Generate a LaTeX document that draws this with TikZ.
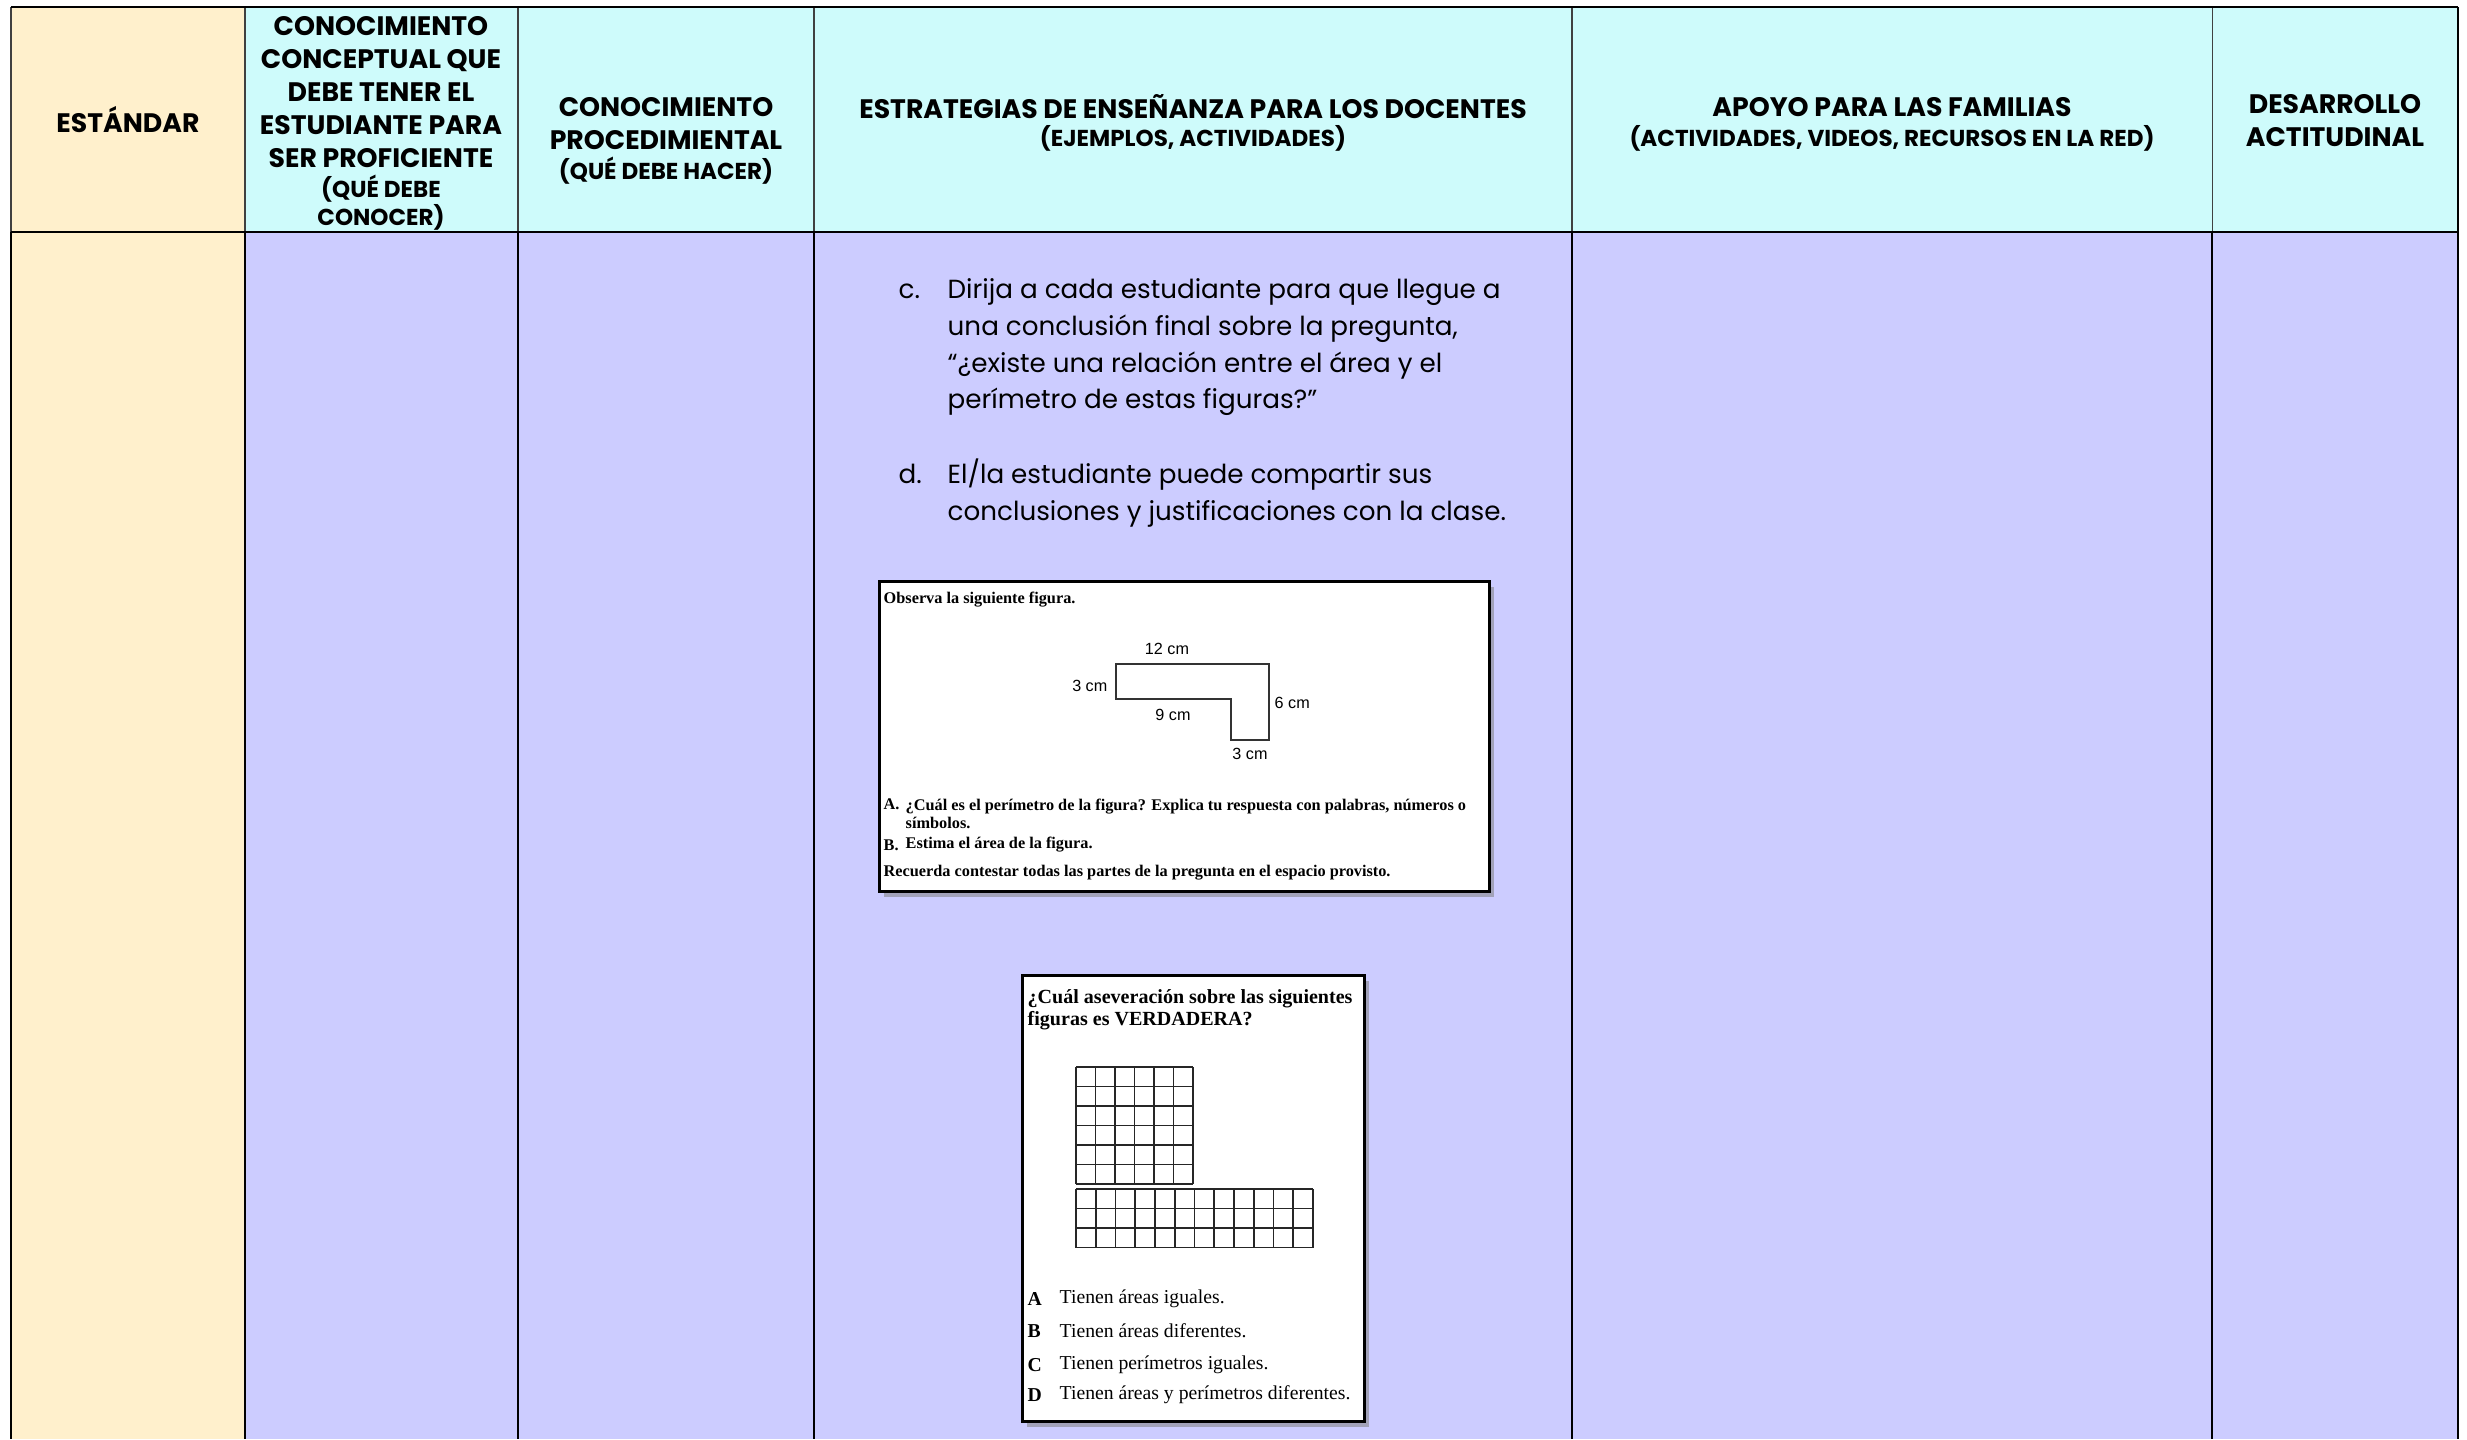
\documentclass[tikz,border=0pt]{standalone}
\usepackage{fontspec}
\setmainfont{Poppins}
\newfontfamily\imgserif{Liberation Serif}
\newfontfamily\imgsans{Liberation Sans}
\usetikzlibrary{positioning,shadows}

\definecolor{stdyellow}{HTML}{FFF0CC}
\definecolor{headcyan}{HTML}{CEFBFB}
\definecolor{bodylilac}{HTML}{CCCCFF}
\definecolor{rulegray}{HTML}{404040}

\newcommand{\subfont}{\fontsize{6.55}{8}\selectfont\bfseries}

\begin{document}
\begin{tikzpicture}[
    x=0.01cm, y=-0.01cm,
    % Styles
    headtext/.style={
        align=center,
        inner sep=0pt,
        font=\fontsize{7.6}{9.4}\selectfont\bfseries
    },
    subhead/.style={
        align=center,
        inner sep=0pt,
        font=\subfont
    },
    bodytext/.style={
        anchor=north west,
        align=left,
        inner sep=0pt,
        font=\fontsize{7.45}{10.45}\selectfont
    },
    figbox/.style={
        rectangle,
        draw=black,
        line width=0.85pt,
        fill=white,
        anchor=north west,
        inner sep=0pt,
        drop shadow={shadow xshift=0.04cm, shadow yshift=-0.05cm, fill=black!50, opacity=0.55}
    },
    figtext/.style={
        anchor=west,
        inner sep=0pt,
        align=left,
        font=\imgserif\fontsize{4.63}{5.1}\selectfont\bfseries
    },
    optiontext/.style={
        anchor=west,
        inner sep=0pt,
        font=\imgserif\fontsize{5.6}{6.4}\selectfont
    },
    optionletter/.style={
        optiontext,
        font=\imgserif\fontsize{5.6}{6.4}\selectfont\bfseries
    },
    measure/.style={
        inner sep=0pt,
        font=\imgsans\fontsize{4.6}{5}\selectfont
    },
    % Line Styles
    thinrule/.style={draw=rulegray, line width=0.3pt},
    thickrule/.style={draw=black, line width=0.6pt},
    shapeline/.style={draw=black!80, line width=0.35pt},
    gridline/.style={draw=black!85, line width=0.5pt}
]

\useasboundingbox[fill=white] (0,0) rectangle (2467,1439);

% --- Cells ---
\fill[stdyellow] (11,7) rectangle (245,1439);
\fill[headcyan] (245,7) rectangle (2458,232);
\fill[bodylilac] (245,232) rectangle (2458,1439);

% --- Rules ---
\foreach \cx in {11,245,518,814,1572,2212}
    \draw[thinrule] (\cx,7) -- (\cx,232);
\foreach \cx in {11,245,518,814,1572,2212}
    \draw[thickrule] (\cx,232) -- (\cx,1439);
\draw[thickrule] (2458,7) -- (2458,1439);
\draw[thickrule] (11,7) -- (2458,7);
\draw[thickrule] (11,232) -- (2458,232);

% --- Header ---
\node[headtext] (hStd) at (128,120) {ESTÁNDAR};
\node[headtext] (hConcept) at (381,92) {CONOCIMIENTO\\CONCEPTUAL QUE\\DEBE TENER EL\\ESTUDIANTE PARA\\SER PROFICIENTE};
\node[subhead] (hConceptSub) at (381,203) {(QUÉ DEBE\\CONOCER)};
\node[headtext] (hProc) at (666,124) {CONOCIMIENTO\\PROCEDIMIENTAL};
\node[subhead] (hProcSub) at (666,171) {(QUÉ DEBE HACER)};
\node[headtext] (hStrat) at (1193,107) {ESTRATEGIAS DE ENSEÑANZA PARA LOS DOCENTES};
\node[subhead] (hStratSub) at (1193,138) {(EJEMPLOS, ACTIVIDADES)};
\node[headtext] (hFam) at (1892,107) {APOYO PARA LAS FAMILIAS};
\node[subhead] (hFamSub) at (1892,138) {(ACTIVIDADES, VIDEOS, RECURSOS EN LA RED)};
\node[headtext] (hAct) at (2335,121) {DESARROLLO\\ACTITUDINAL};

% --- Strategies (c, d) ---
\node[bodytext] (itemC) at (947,278) {Dirija a cada estudiante para que llegue a\\una conclusión final sobre la pregunta,\\“¿existe una relación entre el área y el\\perímetro de estas figuras?”};
\node[bodytext] (labelC) at (898,278) {\vphantom{Dl}c.};
\node[bodytext] (itemD) at (947,458) {El/la estudiante puede compartir sus\\conclusiones y justificaciones con la clase.};
\node[bodytext] (labelD) at (898,458) {\vphantom{El/}d.};

% --- Perimeter task ---
\node[figbox, minimum width=6.1cm, minimum height=3.1cm] (perimFig) at (878,580) {};
\node[figtext] (obsText) at (883,600) {Observa la siguiente figura.};
\draw[shapeline] (1116,664) -- (1269,664) -- (1269,740) -- (1231,740) -- (1231,699) -- (1116,699) -- cycle;
\node[measure] (mTop) at (1167,649) {12 cm};
\node[measure, anchor=east] (mLeft) at (1108,686) {3 cm};
\node[measure, anchor=west] (mRight) at (1274,703) {6 cm};
\node[measure] (mInner) at (1173,715) {9 cm};
\node[measure] (mBottom) at (1250,754) {3 cm};
\node[figtext, anchor=north west] (qA) at (883,798) {A.};
\node[figtext, anchor=north west] (qAText) at (905,798) {¿Cuál es el perímetro de la figura? Explica tu respuesta con palabras, números o\\símbolos.};
\node[figtext] (qB) at (883,845) {B.};
\node[figtext] (qBText) at (905,845) {Estima el área de la figura.};
\node[figtext] (remind) at (883,873) {Recuerda contestar todas las partes de la pregunta en el espacio provisto.};

% --- Area task ---
\node[figbox, minimum width=3.42cm, minimum height=4.46cm] (areaFig) at (1021,974) {};
\node[figtext, anchor=north west, font=\imgserif\fontsize{5.7}{6.3}\selectfont\bfseries] (askText) at (1027,989) {¿Cuál aseveración sobre las siguientes\\figuras es VERDADERA?};
\foreach \k in {0,...,6} {
    \draw[gridline] (1076+\k*19.5,1067) -- (1076+\k*19.5,1184);
    \draw[gridline] (1076,1067+\k*19.5) -- (1193,1067+\k*19.5);
}
\foreach \k in {0,...,12}
    \draw[gridline] (1076+\k*19.75,1189) -- (1076+\k*19.75,1247.5);
\foreach \k in {0,...,3}
    \draw[gridline] (1076,1189+\k*19.5) -- (1313,1189+\k*19.5);
\node[optionletter] (optA) at (1027,1299) {A};
\node[optiontext] (optAText) at (1059,1299) {Tienen áreas iguales.};
\node[optionletter] (optB) at (1027,1331) {B};
\node[optiontext] (optBText) at (1059,1331) {Tienen áreas diferentes.};
\node[optionletter] (optC) at (1027,1365) {C};
\node[optiontext] (optCText) at (1059,1365) {Tienen perímetros iguales.};
\node[optionletter] (optD) at (1027,1395) {D};
\node[optiontext] (optDText) at (1059,1395) {Tienen áreas y perímetros diferentes.};

\end{tikzpicture}
\end{document}
